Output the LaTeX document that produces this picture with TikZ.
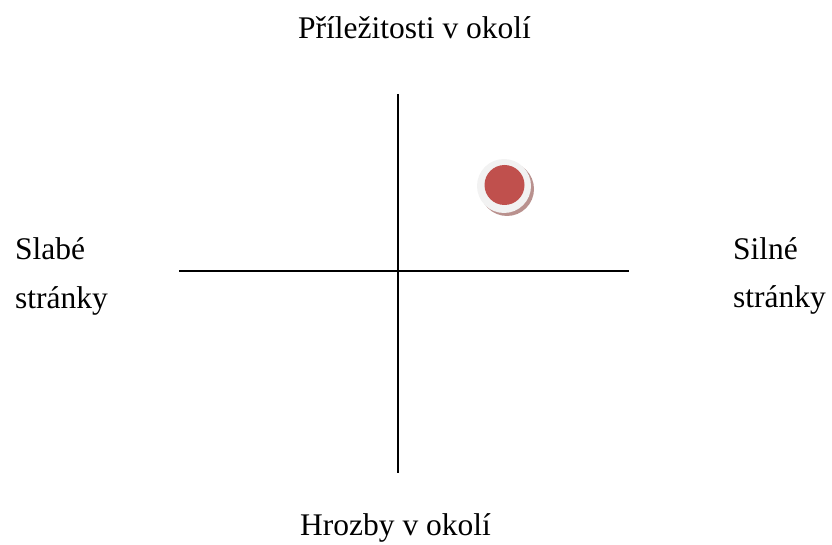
\documentclass[tikz,border=0pt]{standalone}
\usepackage{fontspec}
\setmainfont{Liberation Serif}
\definecolor{dotred}{RGB}{192,80,77}
\definecolor{ringgray}{RGB}{242,242,242}
\definecolor{shadowc}{RGB}{185,145,142}
\begin{document}
\begin{tikzpicture}[x=1pt,y=-1pt,
  lbl/.style={anchor=base west,inner sep=0pt,font=\fontsize{31.5}{38}\selectfont},
  axis/.style={line width=2pt,black}]
\useasboundingbox (0,0) rectangle (832,545);
% texts
\node[lbl] (top) at (298,39) {Příležitosti v okolí};
\node[lbl] (bottom) at (300,535) {Hrozby v okolí};
\node[lbl] (left1) at (15,260) {Slabé};
\node[lbl] (left2) at (15,308) {stránky};
\node[lbl] (right1) at (733,259) {Silné};
\node[lbl] (right2) at (733,307) {stránky};
% axes
\coordinate (hl) at (179,271);
\coordinate (hr) at (629,271);
\coordinate (vt) at (398,94);
\coordinate (vb) at (398,473);
\draw[axis] (hl) -- (hr);
\draw[axis] (vt) -- (vb);
% dot
\fill[shadowc] (507,189) circle (27);
\fill[ringgray] (504,186) circle (27);
\fill[dotred] (504.5,185) circle (20);
\end{tikzpicture}
\end{document}
